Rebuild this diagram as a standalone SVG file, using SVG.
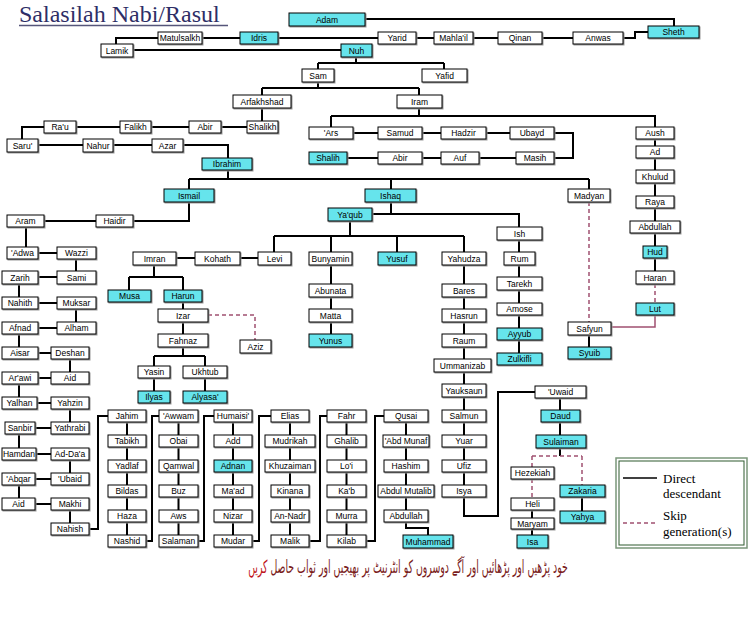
<svg xmlns="http://www.w3.org/2000/svg" width="750" height="640" viewBox="0 0 750 640">
<style>
.b{fill:#fff;stroke:#000;stroke-width:1;filter:drop-shadow(1px 1px 0 #999)}
.c{fill:#66e4ec}
.t{font-family:"Liberation Sans",Arial,sans-serif;font-size:8.5px;text-anchor:middle;fill:#000}
.l{fill:none;stroke:#000;stroke-width:2}
.d{fill:none;stroke:#a05070;stroke-width:1.5;stroke-dasharray:4 3}
.m{fill:none;stroke:#a05070;stroke-width:1.5}
.lg{font-family:"Liberation Serif","Times New Roman",serif;font-size:13px;fill:#000}
.ti{font-family:"Liberation Serif","Times New Roman",serif;font-size:24px;fill:#2e2e66}
.ur{font-family:"DejaVu Sans","Noto Sans",sans-serif;font-size:18px;fill:#7a1c1c}
</style>
<rect width="750" height="640" fill="#fff"/>
<g id="title">
<text class="ti" x="19" y="22">Salasilah Nabi/Rasul</text>
<line x1="19" y1="25.5" x2="228" y2="25.5" stroke="#55557a" stroke-width="1.5"/>
</g>
<g id="connectors">
<path class="l" d="M365,19H674V26M648,32H635V38H116V44M133,50H341"/>
<path class="l" d="M356,57V63M318,63H444M318,63V69M444,63V69M318,82V88M262,88H419M262,88V95M419,88V95M262,108V121"/>
<path class="l" d="M44,127H22V139M44,127H247M38,145H228V158"/>
<path class="l" d="M419,108V116M331,116H655V127M331,116V127M353,133H510M554,133H573V158H554M347,158H516"/>
<path class="l" d="M655,139V271"/>
<path class="d" d="M655,284V303"/>
<path class="m" d="M655,315V327H611"/>
<path class="l" d="M228,170V179M189,179H589M189,179V189M391,179V189M589,179V189"/>
<path class="l" d="M189,202V221H133M96,221H44M26,227V247M38,253H57M76,259V271M57,277H38M19,284V297M38,303H57M76,309V322M57,328H38M19,334V347M38,353H51M70,359V372M51,378H38M19,384V397M37,403H51M70,409V422M51,428H35M19,434V448M35,454H51M70,460V473M51,479H35M19,485V498M35,504H51M70,510V523"/>
<path class="l" d="M89,529H98V416H108M127,422V535M146,541H152V416H159M178.5,422V535M198,541H204V416H214M233,422V535M252,541H259V416H271M290,422V535M309,541H320V416H327M346.5,422V535M366,541H375V416H384M406,422V522V528H428V535"/>
<path class="l" d="M391,202V214H519V227M372,214H391M350,221V236M274,236H464M274,236V252M331,236V252M397,236V252M464,236V252"/>
<path class="l" d="M176,258H258M154,265V277M129,277H183M129,277V290M183,277V290M183,302V334M183,347V356M154,356H205M154,356V366M205,356V366M154,378V391M205,378V391"/>
<path class="d" d="M208,315H255V340"/>
<path class="l" d="M331,265V334M464,265V516H498V392H535M519,240V353"/>
<path class="d" d="M589,202V322"/>
<path class="l" d="M589,335V347"/>
<path class="l" d="M560,397V456"/>
<path class="d" d="M532,456H582M532,456V467M582,456V485M532,479V498"/>
<path class="l" d="M532,510V535M582,497V511"/>
</g>
<g id="n-adam"><rect class="b c" x="289" y="13" width="76" height="13"/><text class="t" x="327" y="22.5">Adam</text></g>
<g id="n-sheth"><rect class="b c" x="648" y="26" width="51" height="12"/><text class="t" x="673.5" y="35">Sheth</text></g>
<g id="n-anwas"><rect class="b" x="573" y="32" width="50" height="12"/><text class="t" x="598" y="41">Anwas</text></g>
<g id="n-qinan"><rect class="b" x="498" y="32" width="44" height="12"/><text class="t" x="520" y="41">Qinan</text></g>
<g id="n-mahlail"><rect class="b" x="434" y="32" width="39" height="12"/><text class="t" x="453.5" y="41">Mahla'il</text></g>
<g id="n-yarid"><rect class="b" x="378" y="32" width="38" height="12"/><text class="t" x="397" y="41">Yarid</text></g>
<g id="n-idris"><rect class="b c" x="240" y="32" width="38" height="12"/><text class="t" x="259" y="41">Idris</text></g>
<g id="n-matulsalkh"><rect class="b" x="158" y="32" width="44" height="12"/><text class="t" x="180" y="41">Matulsalkh</text></g>
<g id="n-lamik"><rect class="b" x="101" y="44" width="32" height="13"/><text class="t" x="117" y="53.5">Lamik</text></g>
<g id="n-nuh"><rect class="b c" x="341" y="44" width="31" height="13"/><text class="t" x="356.5" y="53.5">Nuh</text></g>
<g id="n-sam"><rect class="b" x="302" y="69" width="32" height="13"/><text class="t" x="318" y="78.5">Sam</text></g>
<g id="n-yafid"><rect class="b" x="422" y="69" width="45" height="13"/><text class="t" x="444.5" y="78.5">Yafid</text></g>
<g id="n-arfakhshad"><rect class="b" x="233" y="95" width="58" height="13"/><text class="t" x="262" y="104.5">Arfakhshad</text></g>
<g id="n-iram"><rect class="b" x="397" y="95" width="45" height="13"/><text class="t" x="419.5" y="104.5">Iram</text></g>
<g id="n-rau"><rect class="b" x="44" y="121" width="32" height="12"/><text class="t" x="60" y="130">Ra'u</text></g>
<g id="n-falikh"><rect class="b" x="120" y="121" width="31" height="12"/><text class="t" x="135.5" y="130">Falikh</text></g>
<g id="n-abir1"><rect class="b" x="189" y="121" width="32" height="12"/><text class="t" x="205" y="130">Abir</text></g>
<g id="n-shalikh"><rect class="b" x="247" y="121" width="31" height="12"/><text class="t" x="262.5" y="130">Shalikh</text></g>
<g id="n-saru"><rect class="b" x="7" y="139" width="31" height="13"/><text class="t" x="22.5" y="148.5">Saru'</text></g>
<g id="n-nahur"><rect class="b" x="83" y="139" width="30" height="13"/><text class="t" x="98" y="148.5">Nahur</text></g>
<g id="n-azar"><rect class="b" x="152" y="139" width="31" height="13"/><text class="t" x="167.5" y="148.5">Azar</text></g>
<g id="n-ars"><rect class="b" x="309" y="127" width="44" height="12"/><text class="t" x="331" y="136">'Ars</text></g>
<g id="n-samud"><rect class="b" x="378" y="127" width="44" height="12"/><text class="t" x="400" y="136">Samud</text></g>
<g id="n-hadzir"><rect class="b" x="441" y="127" width="45" height="12"/><text class="t" x="463.5" y="136">Hadzir</text></g>
<g id="n-ubayd"><rect class="b" x="510" y="127" width="44" height="12"/><text class="t" x="532" y="136">Ubayd</text></g>
<g id="n-shalih"><rect class="b c" x="309" y="152" width="38" height="12"/><text class="t" x="328" y="161">Shalih</text></g>
<g id="n-abir2"><rect class="b" x="378" y="152" width="44" height="12"/><text class="t" x="400" y="161">Abir</text></g>
<g id="n-auf"><rect class="b" x="441" y="152" width="38" height="12"/><text class="t" x="460" y="161">Auf</text></g>
<g id="n-masih"><rect class="b" x="516" y="152" width="38" height="12"/><text class="t" x="535" y="161">Masih</text></g>
<g id="n-aush"><rect class="b" x="636" y="127" width="38" height="12"/><text class="t" x="655" y="136">Aush</text></g>
<g id="n-ad"><rect class="b" x="636" y="146" width="38" height="12"/><text class="t" x="655" y="155">Ad</text></g>
<g id="n-khulud"><rect class="b" x="636" y="170" width="38" height="13"/><text class="t" x="655" y="179.5">Khulud</text></g>
<g id="n-raya"><rect class="b" x="636" y="196" width="38" height="12"/><text class="t" x="655" y="205">Raya</text></g>
<g id="n-abdullah1"><rect class="b" x="630" y="221" width="50" height="12"/><text class="t" x="655" y="230">Abdullah</text></g>
<g id="n-hud"><rect class="b c" x="643" y="246" width="24" height="12"/><text class="t" x="655" y="255">Hud</text></g>
<g id="n-haran"><rect class="b" x="636" y="271" width="38" height="13"/><text class="t" x="655" y="280.5">Haran</text></g>
<g id="n-lut"><rect class="b c" x="636" y="303" width="38" height="12"/><text class="t" x="655" y="312">Lut</text></g>
<g id="n-ibrahim"><rect class="b c" x="202" y="158" width="50" height="12"/><text class="t" x="227" y="167">Ibrahim</text></g>
<g id="n-ismail"><rect class="b c" x="164" y="189" width="50" height="13"/><text class="t" x="189" y="198.5">Ismail</text></g>
<g id="n-ishaq"><rect class="b c" x="365" y="189" width="51" height="13"/><text class="t" x="390.5" y="198.5">Ishaq</text></g>
<g id="n-madyan"><rect class="b" x="568" y="189" width="42" height="13"/><text class="t" x="589" y="198.5">Madyan</text></g>
<g id="n-yaqub"><rect class="b c" x="328" y="208" width="44" height="13"/><text class="t" x="350" y="217.5">Ya'qub</text></g>
<g id="n-aram"><rect class="b" x="7" y="215" width="37" height="12"/><text class="t" x="25.5" y="224">Aram</text></g>
<g id="n-haidir"><rect class="b" x="96" y="215" width="37" height="12"/><text class="t" x="114.5" y="224">Haidir</text></g>
<g id="n-adwa"><rect class="b" x="7" y="247" width="31" height="12"/><text class="t" x="22.5" y="256">'Adwa</text></g>
<g id="n-wazzi"><rect class="b" x="57" y="247" width="39" height="12"/><text class="t" x="76.5" y="256">Wazzi</text></g>
<g id="n-zarih"><rect class="b" x="2" y="271" width="36" height="13"/><text class="t" x="20" y="280.5">Zarih</text></g>
<g id="n-sami"><rect class="b" x="57" y="271" width="39" height="13"/><text class="t" x="76.5" y="280.5">Sami</text></g>
<g id="n-nahith"><rect class="b" x="2" y="297" width="36" height="12"/><text class="t" x="20" y="306">Nahith</text></g>
<g id="n-muksar"><rect class="b" x="57" y="297" width="39" height="12"/><text class="t" x="76.5" y="306">Muksar</text></g>
<g id="n-afnad"><rect class="b" x="2" y="322" width="36" height="12"/><text class="t" x="20" y="331">Afnad</text></g>
<g id="n-alham"><rect class="b" x="57" y="322" width="39" height="12"/><text class="t" x="76.5" y="331">Alham</text></g>
<g id="n-aisar"><rect class="b" x="2" y="347" width="36" height="12"/><text class="t" x="20" y="356">Aisar</text></g>
<g id="n-deshan"><rect class="b" x="51" y="347" width="38" height="12"/><text class="t" x="70" y="356">Deshan</text></g>
<g id="n-arawi"><rect class="b" x="2" y="372" width="36" height="12"/><text class="t" x="20" y="381">Ar'awi</text></g>
<g id="n-aid1"><rect class="b" x="51" y="372" width="38" height="12"/><text class="t" x="70" y="381">Aid</text></g>
<g id="n-yalhan"><rect class="b" x="2" y="397" width="35" height="12"/><text class="t" x="19.5" y="406">Yalhan</text></g>
<g id="n-yahzin"><rect class="b" x="51" y="397" width="38" height="12"/><text class="t" x="70" y="406">Yahzin</text></g>
<g id="n-sanbir"><rect class="b" x="5" y="422" width="30" height="12"/><text class="t" x="20" y="431">Sanbir</text></g>
<g id="n-yathrabi"><rect class="b" x="51" y="422" width="38" height="12"/><text class="t" x="70" y="431">Yathrabi</text></g>
<g id="n-hamdan"><rect class="b" x="2" y="448" width="34" height="12"/><text class="t" x="19" y="457">Hamdan</text></g>
<g id="n-adda"><rect class="b" x="51" y="448" width="38" height="12"/><text class="t" x="70" y="457">Ad-Da'a</text></g>
<g id="n-abqar"><rect class="b" x="2" y="473" width="33" height="12"/><text class="t" x="18.5" y="482">'Abqar</text></g>
<g id="n-ubaid"><rect class="b" x="51" y="473" width="38" height="12"/><text class="t" x="70" y="482">'Ubaid</text></g>
<g id="n-aid2"><rect class="b" x="2" y="498" width="33" height="12"/><text class="t" x="18.5" y="507">Aid</text></g>
<g id="n-makhi"><rect class="b" x="51" y="498" width="38" height="12"/><text class="t" x="70" y="507">Makhi</text></g>
<g id="n-nahish"><rect class="b" x="51" y="523" width="38" height="12"/><text class="t" x="70" y="532">Nahish</text></g>
<g id="n-imran"><rect class="b" x="133" y="252" width="43" height="13"/><text class="t" x="154.5" y="261.5">Imran</text></g>
<g id="n-kohath"><rect class="b" x="195" y="252" width="45" height="13"/><text class="t" x="217.5" y="261.5">Kohath</text></g>
<g id="n-levi"><rect class="b" x="258" y="252" width="33" height="13"/><text class="t" x="274.5" y="261.5">Levi</text></g>
<g id="n-bunyamin"><rect class="b" x="309" y="252" width="43" height="13"/><text class="t" x="330.5" y="261.5">Bunyamin</text></g>
<g id="n-yusuf"><rect class="b c" x="378" y="252" width="38" height="13"/><text class="t" x="397" y="261.5">Yusuf</text></g>
<g id="n-yahudza"><rect class="b" x="442" y="252" width="44" height="13"/><text class="t" x="464" y="261.5">Yahudza</text></g>
<g id="n-musa"><rect class="b c" x="108" y="290" width="43" height="12"/><text class="t" x="129.5" y="299">Musa</text></g>
<g id="n-harun"><rect class="b c" x="164" y="290" width="38" height="12"/><text class="t" x="183" y="299">Harun</text></g>
<g id="n-izar"><rect class="b" x="158" y="309" width="50" height="13"/><text class="t" x="183" y="318.5">Izar</text></g>
<g id="n-aziz"><rect class="b" x="240" y="340" width="31" height="13"/><text class="t" x="255.5" y="349.5">Aziz</text></g>
<g id="n-fahnaz"><rect class="b" x="158" y="334" width="50" height="13"/><text class="t" x="183" y="343.5">Fahnaz</text></g>
<g id="n-yasin"><rect class="b" x="138" y="366" width="32" height="12"/><text class="t" x="154" y="375">Yasin</text></g>
<g id="n-ukhtub"><rect class="b" x="183" y="366" width="44" height="12"/><text class="t" x="205" y="375">Ukhtub</text></g>
<g id="n-ilyas"><rect class="b c" x="138" y="391" width="32" height="12"/><text class="t" x="154" y="400">Ilyas</text></g>
<g id="n-alyasa"><rect class="b c" x="183" y="391" width="44" height="12"/><text class="t" x="205" y="400">Alyasa'</text></g>
<g id="n-abunata"><rect class="b" x="309" y="284" width="43" height="13"/><text class="t" x="330.5" y="293.5">Abunata</text></g>
<g id="n-matta"><rect class="b" x="309" y="309" width="43" height="13"/><text class="t" x="330.5" y="318.5">Matta</text></g>
<g id="n-yunus"><rect class="b c" x="309" y="334" width="43" height="13"/><text class="t" x="330.5" y="343.5">Yunus</text></g>
<g id="n-bares"><rect class="b" x="442" y="284" width="44" height="13"/><text class="t" x="464" y="293.5">Bares</text></g>
<g id="n-hasrun"><rect class="b" x="442" y="309" width="44" height="13"/><text class="t" x="464" y="318.5">Hasrun</text></g>
<g id="n-raum"><rect class="b" x="442" y="334" width="44" height="13"/><text class="t" x="464" y="343.5">Raum</text></g>
<g id="n-ummanizab"><rect class="b" x="434" y="359" width="57" height="13"/><text class="t" x="462.5" y="368.5">Ummanizab</text></g>
<g id="n-yauksaun"><rect class="b" x="442" y="384" width="44" height="13"/><text class="t" x="464" y="393.5">Yauksaun</text></g>
<g id="n-ish"><rect class="b" x="497" y="227" width="45" height="13"/><text class="t" x="519.5" y="236.5">Ish</text></g>
<g id="n-rum"><rect class="b" x="504" y="252" width="31" height="13"/><text class="t" x="519.5" y="261.5">Rum</text></g>
<g id="n-tarekh"><rect class="b" x="497" y="277" width="45" height="13"/><text class="t" x="519.5" y="286.5">Tarekh</text></g>
<g id="n-amose"><rect class="b" x="497" y="303" width="45" height="12"/><text class="t" x="519.5" y="312">Amose</text></g>
<g id="n-ayyub"><rect class="b c" x="497" y="328" width="45" height="12"/><text class="t" x="519.5" y="337">Ayyub</text></g>
<g id="n-zulkifli"><rect class="b c" x="497" y="353" width="45" height="12"/><text class="t" x="519.5" y="362">Zulkifli</text></g>
<g id="n-safyun"><rect class="b" x="568" y="322" width="43" height="13"/><text class="t" x="589.5" y="331.5">Safyun</text></g>
<g id="n-syuib"><rect class="b c" x="568" y="347" width="43" height="12"/><text class="t" x="589.5" y="356">Syuib</text></g>
<g id="n-jahim"><rect class="b" x="108" y="410" width="38" height="12"/><text class="t" x="127" y="419">Jahim</text></g>
<g id="n-tabikh"><rect class="b" x="108" y="435" width="38" height="12"/><text class="t" x="127" y="444">Tabikh</text></g>
<g id="n-yadlaf"><rect class="b" x="108" y="460" width="38" height="12"/><text class="t" x="127" y="469">Yadlaf</text></g>
<g id="n-bildas"><rect class="b" x="108" y="485" width="38" height="12"/><text class="t" x="127" y="494">Bildas</text></g>
<g id="n-haza"><rect class="b" x="108" y="510" width="38" height="12"/><text class="t" x="127" y="519">Haza</text></g>
<g id="n-nashid"><rect class="b" x="108" y="535" width="38" height="12"/><text class="t" x="127" y="544">Nashid</text></g>
<g id="n-awwam"><rect class="b" x="159" y="410" width="39" height="12"/><text class="t" x="178.5" y="419">'Awwam</text></g>
<g id="n-obai"><rect class="b" x="159" y="435" width="39" height="12"/><text class="t" x="178.5" y="444">Obai</text></g>
<g id="n-qamwal"><rect class="b" x="159" y="460" width="39" height="12"/><text class="t" x="178.5" y="469">Qamwal</text></g>
<g id="n-buz"><rect class="b" x="159" y="485" width="39" height="12"/><text class="t" x="178.5" y="494">Buz</text></g>
<g id="n-aws"><rect class="b" x="159" y="510" width="39" height="12"/><text class="t" x="178.5" y="519">Aws</text></g>
<g id="n-salaman"><rect class="b" x="159" y="535" width="39" height="12"/><text class="t" x="178.5" y="544">Salaman</text></g>
<g id="n-humaisi"><rect class="b" x="214" y="410" width="38" height="12"/><text class="t" x="233" y="419">Humaisi'</text></g>
<g id="n-add"><rect class="b" x="214" y="435" width="38" height="12"/><text class="t" x="233" y="444">Add</text></g>
<g id="n-adnan"><rect class="b c" x="214" y="460" width="38" height="12"/><text class="t" x="233" y="469">Adnan</text></g>
<g id="n-maad"><rect class="b" x="214" y="485" width="38" height="12"/><text class="t" x="233" y="494">Ma'ad</text></g>
<g id="n-nizar"><rect class="b" x="214" y="510" width="38" height="12"/><text class="t" x="233" y="519">Nizar</text></g>
<g id="n-mudar"><rect class="b" x="214" y="535" width="38" height="12"/><text class="t" x="233" y="544">Mudar</text></g>
<g id="n-elias"><rect class="b" x="271" y="410" width="38" height="12"/><text class="t" x="290" y="419">Elias</text></g>
<g id="n-mudrikah"><rect class="b" x="265" y="435" width="50" height="12"/><text class="t" x="290" y="444">Mudrikah</text></g>
<g id="n-khuzaiman"><rect class="b" x="265" y="460" width="50" height="12"/><text class="t" x="290" y="469">Khuzaiman</text></g>
<g id="n-kinana"><rect class="b" x="271" y="485" width="38" height="12"/><text class="t" x="290" y="494">Kinana</text></g>
<g id="n-annadr"><rect class="b" x="271" y="510" width="38" height="12"/><text class="t" x="290" y="519">An-Nadr</text></g>
<g id="n-malik"><rect class="b" x="271" y="535" width="38" height="12"/><text class="t" x="290" y="544">Malik</text></g>
<g id="n-fahr"><rect class="b" x="327" y="410" width="39" height="12"/><text class="t" x="346.5" y="419">Fahr</text></g>
<g id="n-ghalib"><rect class="b" x="327" y="435" width="39" height="12"/><text class="t" x="346.5" y="444">Ghalib</text></g>
<g id="n-loi"><rect class="b" x="327" y="460" width="39" height="12"/><text class="t" x="346.5" y="469">Lo'i</text></g>
<g id="n-kab"><rect class="b" x="327" y="485" width="39" height="12"/><text class="t" x="346.5" y="494">Ka'b</text></g>
<g id="n-murra"><rect class="b" x="327" y="510" width="39" height="12"/><text class="t" x="346.5" y="519">Murra</text></g>
<g id="n-kilab"><rect class="b" x="327" y="535" width="39" height="12"/><text class="t" x="346.5" y="544">Kilab</text></g>
<g id="n-qusai"><rect class="b" x="384" y="410" width="44" height="12"/><text class="t" x="406" y="419">Qusai</text></g>
<g id="n-abdmunaf"><rect class="b" x="383" y="435" width="46" height="12"/><text class="t" x="406" y="444">'Abd Munaf</text></g>
<g id="n-hashim"><rect class="b" x="384" y="460" width="44" height="12"/><text class="t" x="406" y="469">Hashim</text></g>
<g id="n-abdulmutalib"><rect class="b" x="378" y="485" width="56" height="12"/><text class="t" x="406" y="494">Abdul Mutalib</text></g>
<g id="n-abdullah2"><rect class="b" x="384" y="510" width="44" height="12"/><text class="t" x="406" y="519">Abdullah</text></g>
<g id="n-muhammad"><rect class="b c" x="403" y="535" width="50" height="13"/><text class="t" x="428" y="544.5">Muhammad</text></g>
<g id="n-salmun"><rect class="b" x="442" y="410" width="44" height="12"/><text class="t" x="464" y="419">Salmun</text></g>
<g id="n-yuar"><rect class="b" x="442" y="435" width="44" height="12"/><text class="t" x="464" y="444">Yuar</text></g>
<g id="n-ufiz"><rect class="b" x="442" y="460" width="44" height="12"/><text class="t" x="464" y="469">Ufiz</text></g>
<g id="n-isya"><rect class="b" x="442" y="485" width="44" height="12"/><text class="t" x="464" y="494">Isya</text></g>
<g id="n-uwaid"><rect class="b" x="535" y="386" width="51" height="12"/><text class="t" x="560.5" y="395">'Uwaid</text></g>
<g id="n-daud"><rect class="b c" x="541" y="410" width="39" height="12"/><text class="t" x="560.5" y="419">Daud</text></g>
<g id="n-sulaiman"><rect class="b c" x="536" y="435" width="50" height="13"/><text class="t" x="561" y="444.5">Sulaiman</text></g>
<g id="n-hezekiah"><rect class="b" x="511" y="467" width="43" height="12"/><text class="t" x="532.5" y="476">Hezekiah</text></g>
<g id="n-heli"><rect class="b" x="511" y="498" width="43" height="12"/><text class="t" x="532.5" y="507">Heli</text></g>
<g id="n-maryam"><rect class="b" x="511" y="518" width="43" height="11"/><text class="t" x="532.5" y="526.5">Maryam</text></g>
<g id="n-isa"><rect class="b c" x="517" y="535" width="31" height="13"/><text class="t" x="532.5" y="544.5">Isa</text></g>
<g id="n-zakaria"><rect class="b c" x="560" y="485" width="45" height="12"/><text class="t" x="582.5" y="494">Zakaria</text></g>
<g id="n-yahya"><rect class="b c" x="560" y="511" width="45" height="12"/><text class="t" x="582.5" y="520">Yahya</text></g>
<g id="legend">
<rect x="616" y="458" width="131" height="90" fill="#fff" stroke="#7a967a" stroke-width="1.5"/>
<rect x="619" y="461" width="125" height="84" fill="none" stroke="#2f5a2f" stroke-width="1"/>
<line x1="623" y1="478" x2="657" y2="478" stroke="#000" stroke-width="1.5"/>
<line x1="623" y1="523" x2="657" y2="523" class="d"/>
<text class="lg" x="663" y="483">Direct</text>
<text class="lg" x="663" y="498">descendant</text>
<text class="lg" x="663" y="520">Skip</text>
<text class="lg" x="663" y="536">generation(s)</text>
</g>
<g id="urdu" transform="translate(408,573) scale(0.52,1)">
<text class="ur" x="0" y="0" direction="rtl" text-anchor="middle">خود پڑھیں اور پڑھائیں اور آگے دوسروں کو انٹرنیٹ پر بھیجیں اور ثواب حاصل <tspan fill="#c0141a">کریں</tspan></text>
</g>
</svg>
